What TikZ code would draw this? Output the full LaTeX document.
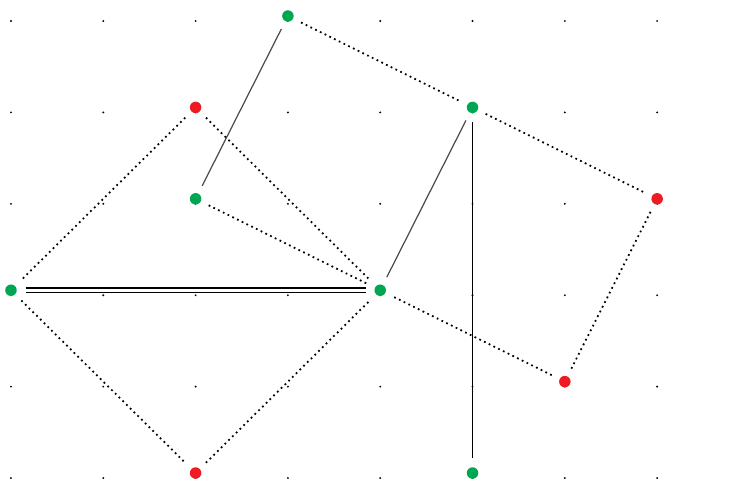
\documentclass[tikz,border=0pt]{standalone}
\definecolor{dotgreen}{RGB}{0,166,81}
\definecolor{dotred}{RGB}{237,28,36}
\tikzset{
  gnode/.style={circle,fill=dotgreen,minimum size=0.23cm,inner sep=0pt},
  rnode/.style={circle,fill=dotred,minimum size=0.23cm,inner sep=0pt},
  link/.style={shorten <=0.17cm,shorten >=0.17cm},
  dotlink/.style={link,line width=1pt,dash pattern=on 1pt off 2pt},
  solidlink/.style={link,line width=0.9pt},
  doublelink/.style={link,line width=0.9pt,double,double distance=1.9pt},
  thinlink/.style={link,line width=0.7pt,black!70}
}
\begin{document}
\begin{tikzpicture}[x=1.846cm,y=-1.828cm]
\useasboundingbox (-0.119,-0.175) rectangle (7.941,5.055);
% grid
\foreach \i in {0,...,7}
  \foreach \j in {0,...,5}
    \fill (\i,\j+0.055) circle (0.6pt);
% points
\node[gnode] (g1) at (3,0) {};
\node[rnode] (r1) at (2,1) {};
\node[gnode] (g2) at (5,1) {};
\node[gnode] (g3) at (2,2) {};
\node[rnode] (r2) at (7,2) {};
\node[gnode] (g4) at (0,3) {};
\node[gnode] (g5) at (4,3) {};
\node[rnode] (r3) at (6,4) {};
\node[rnode] (r4) at (2,5) {};
\node[gnode] (g6) at (5,5) {};
% edges
\draw[dotlink] (g1) -- (g2);
\draw[dotlink] (g2) -- (r2);
\draw[dotlink] (r2) -- (r3);
\draw[dotlink] (r3) -- (g5);
\draw[dotlink] (r1) -- (g4);
\draw[dotlink] (r1) -- (g5);
\draw[dotlink] (g3) -- (g5);
\draw[dotlink] (g4) -- (r4);
\draw[dotlink] (r4) -- (g5);
\draw[doublelink] (g4) -- (g5);
\draw[solidlink] (g2) -- (g6);
\draw[thinlink] (g1) -- (g3);
\draw[thinlink] (g2) -- (g5);
\end{tikzpicture}
\end{document}
